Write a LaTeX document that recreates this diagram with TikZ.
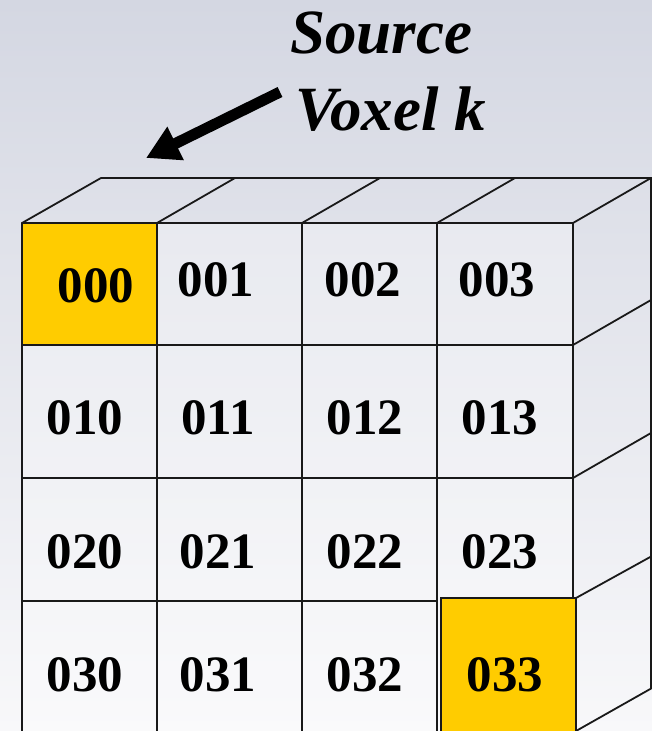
\documentclass[tikz,border=0pt]{standalone}
\usepackage{fontspec}
\setmainfont{Liberation Serif}
\usetikzlibrary{arrows.meta}
\definecolor{voxyellow}{RGB}{255,204,0}
\definecolor{bgtop}{RGB}{212,215,226}
\definecolor{bgbot}{RGB}{248,248,250}
\begin{document}
\begin{tikzpicture}[x=1pt,y=-1pt,
  gridline/.style={line width=1.8pt, draw=black!90, line cap=round},
  facefill/.style={fill=white, fill opacity=0.3},
  lbl/.style={font=\fontsize{51}{60}\selectfont\bfseries, anchor=base, inner sep=0pt},
  titletext/.style={font=\fontsize{63}{72}\selectfont\bfseries\itshape, anchor=base west, inner sep=0pt},
  pointer/.style={line width=11pt, -{Triangle[length=33pt,width=35pt]}}]
\useasboundingbox (0,0) rectangle (652,731);
\shade[top color=bgtop, bottom color=bgbot] (0,0) rectangle (652,731);
% front face
\fill[facefill] (22,223) rectangle (573,731);
\fill[voxyellow] (22,223) rectangle (157,345);
\foreach \x in {22,157,302,437} \draw[gridline] (\x,223) -- (\x,735);
\draw[gridline] (573,223) -- (573,598);
\foreach \y in {223,345,478} \draw[gridline] (22,\y) -- (573,\y);
\draw[gridline] (22,601) -- (437,601);
% top face
\draw[gridline] (22,223) -- (101,178) -- (651,178) -- (573,223);
\foreach \x in {157,302,437} \draw[gridline] (\x,223) -- ++(78,-45);
% right face
\draw[gridline] (651,178) -- (651,688);
\draw[gridline] (573,345) -- (651,300);
\draw[gridline] (573,478) -- (651,433);
\draw[gridline] (576,598) -- (652,556);
\draw[gridline] (576,731) -- (652,688);
% target voxel
\filldraw[fill=voxyellow, draw=black!90, line width=1.8pt] (441,598) rectangle (576,736);
% labels
\node[lbl] (l000) at (96,302) {000};
\node[lbl] (l001) at (216,296) {001};
\node[lbl] (l002) at (363,296) {002};
\node[lbl] (l003) at (497,296) {003};
\node[lbl] (l010) at (85,434) {010};
\node[lbl] (l011) at (218,434) {011};
\node[lbl] (l012) at (365,434) {012};
\node[lbl] (l013) at (500,434) {013};
\node[lbl] (l020) at (85,568) {020};
\node[lbl] (l021) at (218,568) {021};
\node[lbl] (l022) at (365,568) {022};
\node[lbl] (l023) at (500,568) {023};
\node[lbl] (l030) at (85,691) {030};
\node[lbl] (l031) at (218,691) {031};
\node[lbl] (l032) at (365,691) {032};
\node[lbl] (l033) at (505,691) {033};
% title and arrow
\node[titletext] (src) at (290,53) {Source};
\node[titletext] (vox) at (295,130) {Voxel k};
\coordinate (arrowtail) at (280,92);
\coordinate (arrowtip) at (146,158);
\draw[pointer] (arrowtail) -- (arrowtip);
\end{tikzpicture}
\end{document}
